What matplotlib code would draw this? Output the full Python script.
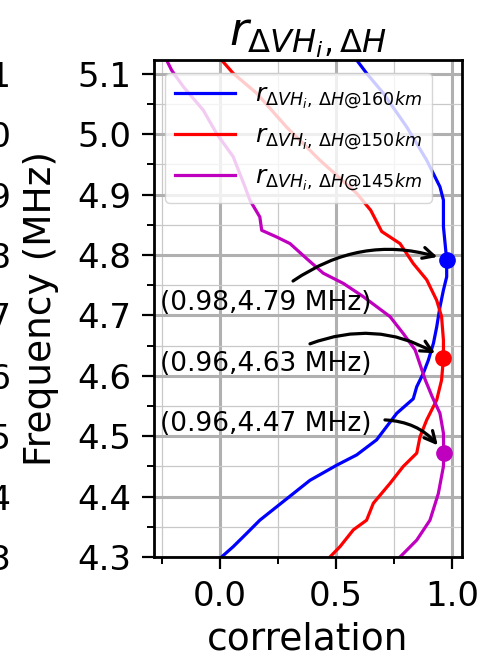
import matplotlib
matplotlib.use("Agg")
import matplotlib.pyplot as plt
from matplotlib.ticker import MultipleLocator

# correlation vs frequency
freq_160 = [4.300, 4.317, 4.339, 4.361, 4.383, 4.405, 4.427, 4.452, 4.469, 4.494,
            4.538, 4.562, 4.582, 4.604, 4.626, 4.654, 4.681, 4.714, 4.742, 4.764,
            4.792, 4.847, 4.874, 4.891, 4.913, 4.957, 5.012, 5.068, 5.101, 5.123]
corr_160 = [0.007, 0.057, 0.115, 0.172, 0.244, 0.316, 0.388, 0.503, 0.589, 0.675,
            0.762, 0.833, 0.848, 0.876, 0.898, 0.920, 0.934, 0.948, 0.963, 0.977,
            0.977, 0.963, 0.963, 0.963, 0.948, 0.891, 0.805, 0.704, 0.632, 0.589]

freq_150 = [4.300, 4.317, 4.345, 4.361, 4.389, 4.422, 4.450, 4.472, 4.499, 4.527,
            4.560, 4.593, 4.629, 4.659, 4.698, 4.725, 4.759, 4.786, 4.819, 4.839,
            4.874, 4.902, 4.957, 5.012, 5.068, 5.101, 5.123]
corr_150 = [0.474, 0.517, 0.575, 0.632, 0.661, 0.733, 0.790, 0.848, 0.862, 0.891,
            0.934, 0.955, 0.963, 0.963, 0.955, 0.934, 0.891, 0.833, 0.776, 0.697,
            0.650, 0.590, 0.431, 0.287, 0.158, 0.057, 0.007]

freq_145 = [4.300, 4.328, 4.361, 4.405, 4.450, 4.472, 4.505, 4.538, 4.565, 4.593,
            4.610, 4.643, 4.670, 4.698, 4.731, 4.753, 4.770, 4.794, 4.819, 4.830,
            4.841, 4.863, 4.891, 4.913, 4.963, 5.001, 5.040, 5.079, 5.106, 5.123]
corr_145 = [0.776, 0.848, 0.905, 0.941, 0.963, 0.964, 0.963, 0.948, 0.915, 0.885,
            0.870, 0.841, 0.790, 0.733, 0.618, 0.532, 0.445, 0.374, 0.302, 0.244,
            0.180, 0.172, 0.129, 0.108, 0.057, -0.014, -0.072, -0.158, -0.208, -0.230]

labels = [r"$r_{\Delta VH_i,\,\Delta H@160km}$",
          r"$r_{\Delta VH_i,\,\Delta H@150km}$",
          r"$r_{\Delta VH_i,\,\Delta H@145km}$"]
colors = ["#0000ff", "#ff0000", "#bf00bf"]

# peaks and where their annotations sit
peak_corr = [0.977, 0.963, 0.964]
peak_freq = [4.792, 4.629, 4.472]
text_xy = [(-0.26, 4.72), (-0.26, 4.62), (-0.26, 4.52)]
arrow_from = [(0.315, 4.757), (0.388, 4.653), (0.711, 4.527)]

ytick_vals = [4.3, 4.4, 4.5, 4.6, 4.7, 4.8, 4.9, 5.0, 5.1]
xtick_vals = [0.0, 0.5, 1.0]

fig = plt.figure(figsize=(4.95, 6.65), dpi=100)
ax = fig.add_axes([154/495, 1-557/665, 308/495, 497/665])

curves = [(corr_160, freq_160), (corr_150, freq_150), (corr_145, freq_145)]
for (c, f), lab, col in zip(curves, labels, colors):
    ax.plot(c, f, color=col, lw=2.3, label=lab)

for pc, pf, col in zip(peak_corr, peak_freq, colors):
    ax.plot(pc, pf, "o", color=col, ms=11)

for pc, pf, (tx, ty), (ax0, ay0) in zip(peak_corr, peak_freq, text_xy, arrow_from):
    ax.text(tx, ty, f"({pc:.2f},{pf:.2f} MHz)", fontsize=19, ha="left", va="center")
    ax.annotate("", xy=(pc, pf), xytext=(ax0, ay0),
                arrowprops=dict(arrowstyle="->", color="black", lw=2.3,
                                connectionstyle="arc3,rad=-0.25",
                                shrinkA=0, shrinkB=7, mutation_scale=20))

ax.set_xlim(-0.284, 1.043)
ax.set_ylim(4.3, 5.123)
ax.set_xticks(xtick_vals)
ax.set_yticks(ytick_vals)
ax.xaxis.set_minor_locator(MultipleLocator(0.25))
ax.yaxis.set_minor_locator(MultipleLocator(0.05))
ax.grid(which="major", color="#b0b0b0", lw=2.2)
ax.grid(which="minor", color="#c8c8c8", lw=0.9)
ax.set_axisbelow(True)
for sp in ax.spines.values():
    sp.set_linewidth(2.0)
ax.tick_params(which="major", length=8.5, width=1.6, labelsize=24.5, pad=8)
ax.tick_params(which="minor", length=5, width=1.4)

ax.set_xlabel("correlation", fontsize=27, labelpad=6)
ax.set_ylabel("Frequency (MHz)", fontsize=27, labelpad=13)
ax.set_title(r"$r_{\Delta VH_i,\Delta H}$", fontsize=33, pad=10)

ax.legend(loc="upper left", bbox_to_anchor=(0.036, 0.974), borderaxespad=0,
          fontsize=18, handlelength=2.4, framealpha=0.8)

# tick labels of the neighbouring panel, cut off by the left edge
ax_prev = fig.add_axes([18/495, 1-557/665, 0.001, 497/665])
ax_prev.set_ylim(4.3, 5.123)
ax_prev.set_yticks(ytick_vals)
ax_prev.set_xticks([])
ax_prev.set_frame_on(False)
ax_prev.tick_params(length=0, labelsize=24.5, pad=5)

fig.savefig("out.png", dpi=100)
